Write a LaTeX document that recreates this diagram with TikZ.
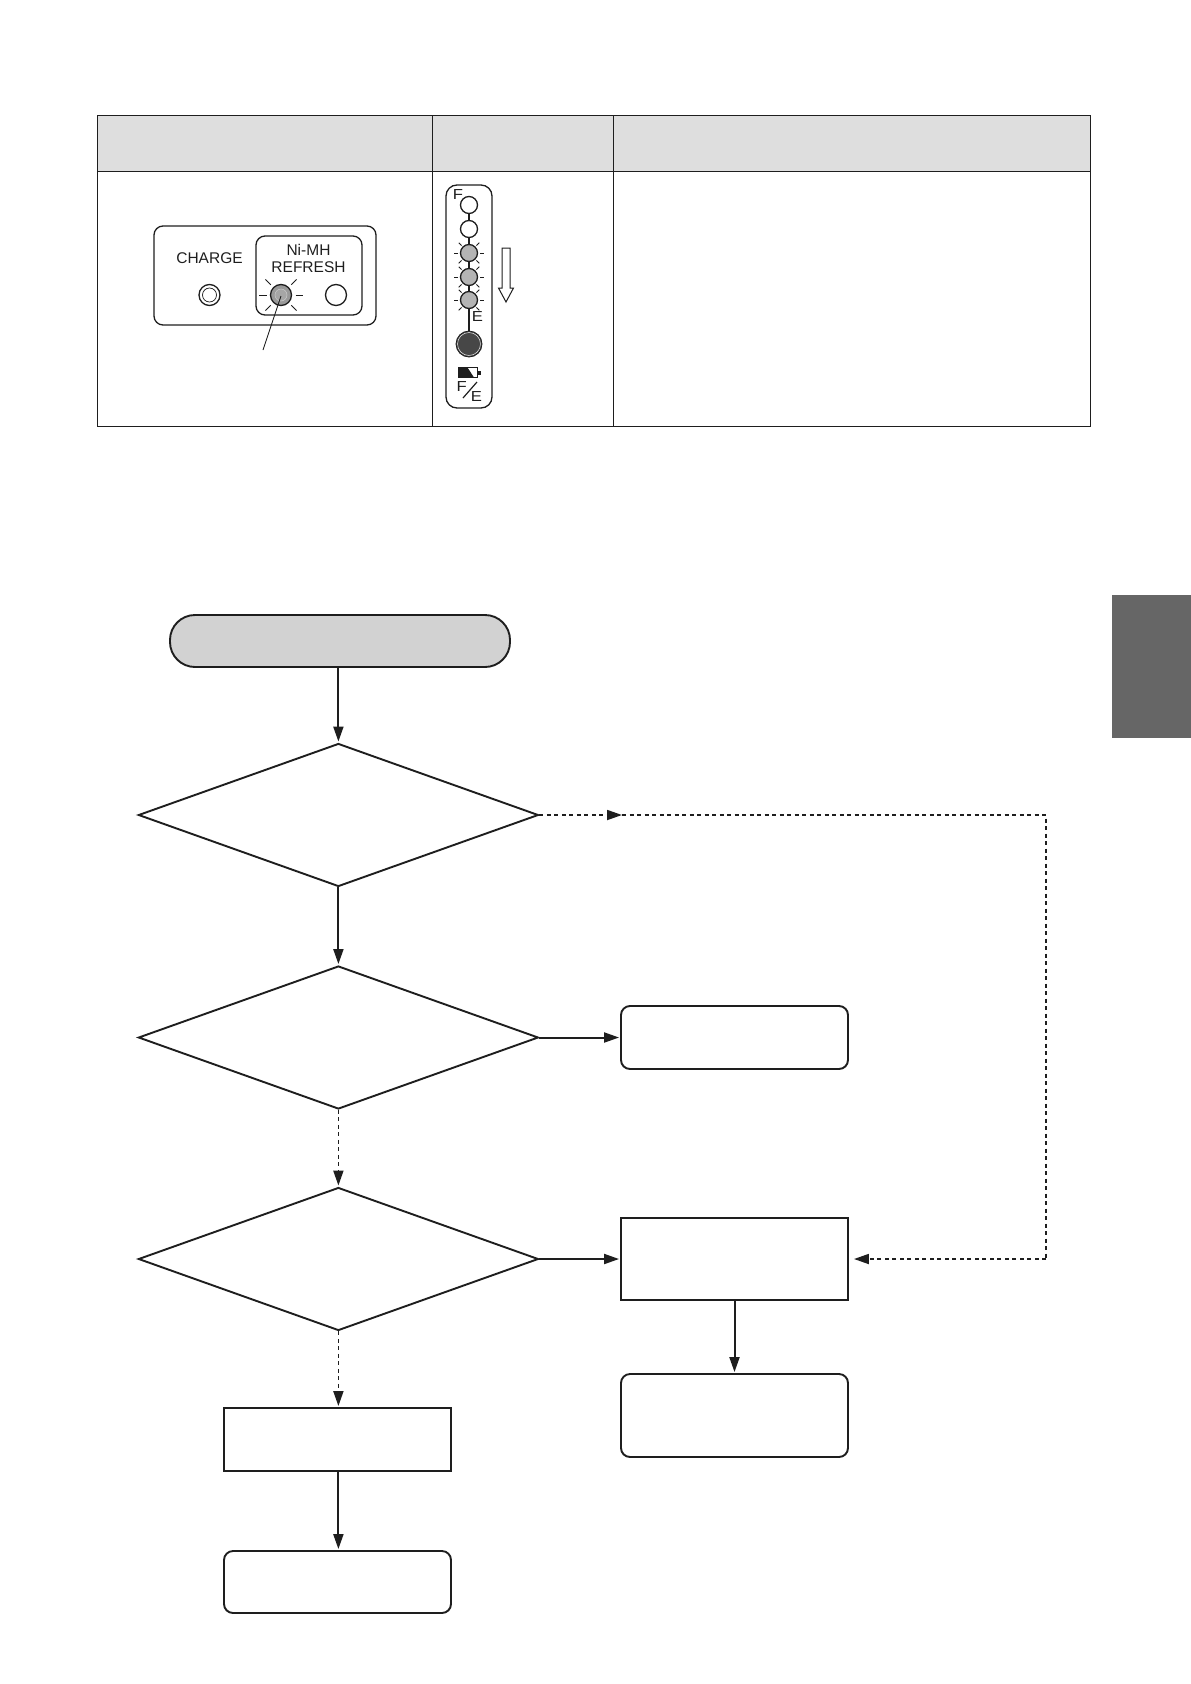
\documentclass[tikz,border=0pt]{standalone}
\usepackage{fontspec}
\setmainfont{Liberation Sans}
\usetikzlibrary{shapes.geometric,arrows.meta}
\definecolor{ink}{HTML}{1E1E1E}
\definecolor{headgrey}{HTML}{DEDEDE}
\definecolor{pillgrey}{HTML}{D2D2D2}
\definecolor{tabgrey}{HTML}{666666}
\definecolor{ledgrey}{HTML}{B4B4B4}
\tikzset{
  flow/.style={draw=ink,line width=1.9pt,inner sep=0pt},
  decision/.style={flow,diamond,aspect=2.8,minimum width=400pt,minimum height=143pt},
  rbox/.style={flow,rounded corners=9pt,minimum width=227pt},
  sbox/.style={flow,minimum width=227pt},
  tip/.style={-{Triangle[length=15pt,width=10pt]}},
  solidarrow/.style={draw=ink,line width=2pt,tip,shorten >=1pt},
  dottedarrow/.style={draw=ink,line width=1.8pt,dash pattern=on 4pt off 3.5pt,tip,shorten >=1pt},
  dottedline/.style={draw=ink,line width=1.8pt,dash pattern=on 4pt off 3.5pt},
  thin panel/.style={draw=ink,line width=1.3pt},
  table line/.style={draw=ink,line width=1pt},
  lamp/.style={circle,draw=ink,line width=1.3pt,inner sep=0pt,fill=white},
  label text/.style={font=\fontsize{15.5}{16}\selectfont,text=ink,inner sep=0pt},
  small text/.style={font=\fontsize{14.5}{14}\selectfont,text=ink,inner sep=0pt,xscale=1.15},
  ray/.style={draw=ink,line width=0.9pt},
}
\begin{document}
\begin{tikzpicture}[x=1pt,y=-1pt]
\useasboundingbox (0,0) rectangle (1191,1684);
% side tab
\fill[tabgrey] (1112,595) rectangle (1191,738);
% table
\fill[headgrey] (97.7,115) rectangle (1090,172);
\draw[table line] (97.7,115.4) rectangle (1090,426.4);
\draw[table line] (97.7,171.5) -- (1090,171.5);
\draw[table line] (432.8,115) -- (432.8,426);
\draw[table line] (613.5,115) -- (613.5,426);
% charger panel
\draw[thin panel,rounded corners=9pt] (154,226) rectangle (376,325);
\draw[thin panel,rounded corners=9pt] (256,236) rectangle (362,315);
\node[label text] (chg) at (209.5,258.5) {CHARGE};
\node[label text] (nimh) at (308.5,250) {Ni-MH};
\node[label text] (refr) at (308.5,267) {REFRESH};
\node[lamp,minimum size=21pt] (lc) at (209.5,295) {};
\node[lamp,minimum size=14pt,line width=0.7pt] (lci) at (209.5,295) {};
\node[lamp,minimum size=21pt,fill=gray!80] (lr) at (281,295) {};
\node[lamp,minimum size=12pt,line width=0.5pt,draw=gray!40,fill=gray!70] (lri) at (281,295) {};
\node[lamp,minimum size=21pt] (lw) at (336,295) {};
\foreach \a in {0,45,135,180,225,315}{\draw[ray] ([shift={(\a:14.5pt)}]lr.center) -- ([shift={(\a:22pt)}]lr.center);}
\coordinate (leadend) at (263,350);
\draw[ink,line width=0.9pt] (281,296) -- (leadend);
% battery strip
\draw[thin panel,rounded corners=11pt] (446,185) rectangle (492,408);
\node[lamp,minimum size=17pt] (b1) at (469,205) {};
\node[lamp,minimum size=17pt] (b2) at (469,229) {};
\node[lamp,minimum size=17pt,fill=ledgrey] (b3) at (469,253) {};
\node[lamp,minimum size=17pt,fill=ledgrey] (b4) at (469,277) {};
\node[lamp,minimum size=17pt,fill=ledgrey] (b5) at (469,300) {};
\node[lamp,minimum size=26pt,fill=black!72,line width=0.8pt] (b6) at (469,344) {};
\draw[ink,line width=1.3pt] (b1) -- (b2);
\draw[ink,line width=1.3pt] (b2) -- (b3);
\draw[ink,line width=1.3pt] (b3) -- (b4);
\draw[ink,line width=1.3pt] (b4) -- (b5);
\draw[ink,line width=1.5pt] (b5) -- (b6);
\draw[white,line width=0.4pt] (469,344) circle (11.5pt);
\foreach \c in {b3,b4,b5}{
  \draw[ray,line width=1pt] ([shift={(180:11pt)}]\c.center) -- ([shift={(180:15pt)}]\c.center);
  \draw[ray,line width=1pt] ([shift={(0:11pt)}]\c.center) -- ([shift={(0:15pt)}]\c.center);
  \foreach \a in {45,135,225,315}{\draw[ray] ([shift={(\a:10.5pt)}]\c.center) -- ([shift={(\a:14.5pt)}]\c.center);}
}
\node[small text] (ftop) at (458,195) {F};
\node[small text] (etop) at (477.5,317) {E};
% battery icon
\draw[ink,line width=0.8pt,fill=white] (458,367.5) rectangle (477,377.5);
\fill[ink] (458,367.5) -- (467.5,367.5) -- (474,377.5) -- (458,377.5) -- cycle;
\fill[ink] (477,370.5) rectangle (480.5,375);
\node[small text] (ff) at (461.7,386.3) {F};
\node[small text] (ee) at (476.5,396.7) {E};
\coordinate (sa) at (463,398);
\coordinate (sb) at (477,382);
\draw[ink,line width=1.2pt] (sa) -- (sb);
% hollow arrow
\draw[ink,line width=1pt,fill=white] (502,248) -- (510,248) -- (510,288) -- (513.5,288) -- (506,302) -- (498.5,288) -- (502,288) -- cycle;
% flow chart
\node[flow,rounded corners=25pt,fill=pillgrey,minimum width=340pt,minimum height=52pt] (start) at (340,641) {};
\node[decision] (d1) at (338.4,815) {};
\node[decision] (d2) at (338.4,1037.5) {};
\node[decision] (d3) at (338.4,1259) {};
\node[rbox,minimum height=63pt] (a) at (734.5,1037.5) {};
\node[sbox,minimum height=82pt] (b) at (734.5,1259) {};
\node[rbox,minimum height=83pt] (c) at (734.5,1415.5) {};
\node[sbox,minimum height=63pt] (e) at (337.5,1439.5) {};
\node[rbox,minimum height=62pt] (f) at (337.5,1582) {};
\coordinate (midtip) at (622,815);
\coordinate (corner1) at (1046,815);
\coordinate (corner2) at (1046,1259);
\draw[solidarrow] (start.south -| d1.north) -- (d1.north);
\draw[solidarrow] (d1) -- (d2);
\draw[dottedarrow] (d2) -- (d3);
\draw[dottedarrow] (d3.south) -- (d3.south |- e.north);
\draw[solidarrow] (e.south -| d3.south) -- (d3.south |- f.north);
\draw[solidarrow] (d2) -- (a);
\draw[solidarrow] (d3) -- (b);
\draw[solidarrow] (b.south) -- (c.north);
\draw[dottedarrow,shorten >=0pt] (d1.east) -- (midtip);
\draw[dottedline] (midtip) -- (corner1) -- (corner2);
\draw[dottedarrow,shorten >=5pt] (corner2) -- (b.east);
\end{tikzpicture}
\end{document}
